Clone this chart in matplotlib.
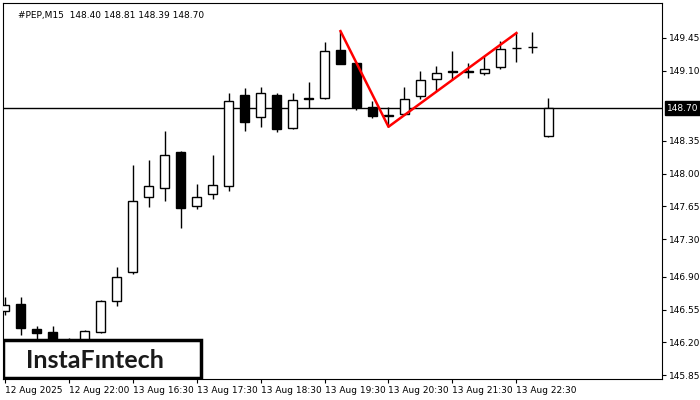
import matplotlib
matplotlib.use("Agg")
import matplotlib.pyplot as plt
from matplotlib.patches import Rectangle

opens  = [146.53,146.61,146.34,146.31,146.17,146.20,146.31,146.64,146.95,147.75,147.85,148.23,147.66,147.78,147.87,148.84,148.60,148.84,148.49,148.80,148.81,149.32,149.18,148.71,148.62,148.64,148.83,149.01,149.10,149.10,149.07,149.14,149.34,149.35,148.40]
closes = [146.60,146.35,146.30,146.17,146.20,146.32,146.64,146.90,147.71,147.87,148.20,147.63,147.75,147.88,148.77,148.55,148.86,148.48,148.79,148.80,149.31,149.17,148.71,148.61,148.63,148.80,149.00,149.07,149.08,149.08,149.12,149.33,149.34,149.35,148.70]
highs  = [146.68,146.68,146.37,146.37,146.25,146.33,146.65,147.00,148.09,148.15,148.45,148.24,147.89,148.20,148.86,148.91,148.92,148.86,148.86,148.98,149.40,149.52,149.19,148.78,148.71,148.92,149.09,149.15,149.31,149.18,149.25,149.41,149.50,149.51,148.81]
lows   = [146.49,146.28,146.22,146.10,146.08,146.15,146.30,146.59,146.93,147.64,147.71,147.42,147.62,147.73,147.82,148.45,148.50,148.44,148.48,148.70,148.80,149.17,148.68,148.59,148.50,148.63,148.80,148.88,149.00,149.02,149.05,149.12,149.19,149.29,148.39]
pattern_idx = [21, 24, 32]
pattern_px = [149.52, 148.50, 149.50]
xtick_idx = [0, 4, 8, 12, 16, 20, 24, 28, 32]
xtick_labels = ["12 Aug 2025","12 Aug 22:00","13 Aug 16:30","13 Aug 17:30","13 Aug 18:30","13 Aug 19:30","13 Aug 20:30","13 Aug 21:30","13 Aug 22:30"]
yticks = [145.85,146.20,146.55,146.90,147.30,147.65,148.00,148.35,149.10,149.45]
last_price = 148.70

fs = 6.5
fig = plt.figure(figsize=(7,4), dpi=100)
ax = fig.add_axes([3/700, 21/400, 659/700, 376/400])
w = 0.6
for i,(o,c,h,l) in enumerate(zip(opens,closes,highs,lows)):
    ax.vlines(i, l, h, color='black', lw=1, zorder=2)
    bot, top = min(o,c), max(o,c)
    hgt = max(top-bot, 0.005)
    fc = 'white' if c > o else 'black'
    ax.add_patch(Rectangle((i-w/2, bot), w, hgt, facecolor=fc, edgecolor='black', lw=1, zorder=3))
ax.axhline(last_price, color='black', lw=1, zorder=1)
ax.plot(pattern_idx, pattern_px, color='red', lw=1.8, zorder=4)
ax.set_xlim(-0.1, 41.1)
ax.set_ylim(145.81, 149.82)
ax.yaxis.tick_right()
ax.set_yticks(yticks)
ax.set_yticklabels([f"{v:.2f}" for v in yticks], fontsize=fs)
ax.set_xticks(xtick_idx)
ax.set_xticklabels(xtick_labels, fontsize=fs, ha='left')
ax.tick_params(length=3, pad=2)
ax.text(1.008, (last_price-145.81)/(149.82-145.81), f"{last_price:.2f}", transform=ax.transAxes,
        fontsize=fs, color='white', va='center', ha='left', zorder=10,
        bbox=dict(facecolor='black', edgecolor='black', pad=1.5), clip_on=False)
ax.text(0.023, 0.98, "#PEP,M15  148.40 148.81 148.39 148.70", transform=ax.transAxes, fontsize=fs, va='top')
ax.add_patch(Rectangle((0, 0.003), 198/659, 38/376, transform=ax.transAxes, facecolor='white', edgecolor='black', lw=2.5, zorder=8))
ax.text(92/659, 19/376, "InstaFıntech", transform=ax.transAxes, fontsize=18, ha='center', va='center',
        color='#1a1a1a', zorder=9, family='Lato', weight='bold')
fig.savefig("out.png", dpi=100)
